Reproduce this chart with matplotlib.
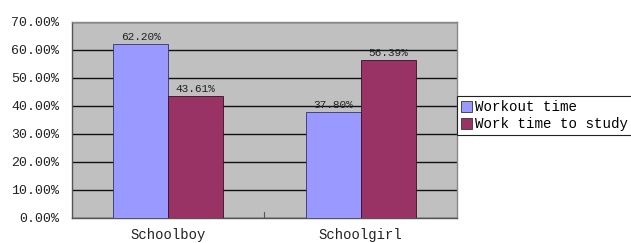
import matplotlib
matplotlib.use('Agg')
import matplotlib.pyplot as plt
import matplotlib.patches as mpatches
import numpy as np

CATEGORIES = ["Schoolboy", "Schoolgirl"]
SERIES = ["Workout time", "Work time to study"]
WORKOUT = [62.20, 37.80]
STUDY = [43.61, 56.39]
Y_TICKS = [0, 10, 20, 30, 40, 50, 60, 70]

BLUE = "#9999ff"
RED = "#993366"
BG = "#c0c0c0"
FONT = "Liberation Mono"

fig = plt.figure(figsize=(6.31, 2.43), dpi=100, facecolor="white")
ax = fig.add_axes([0.114, 0.103, 0.610, 0.807])
ax.set_facecolor(BG)

x = np.arange(len(CATEGORIES))
w = 0.286
b1 = ax.bar(x - w / 2, WORKOUT, width=w, color=BLUE, edgecolor="#333366", linewidth=0.6, zorder=3)
b2 = ax.bar(x + w / 2, STUDY, width=w, color=RED, edgecolor="#331122", linewidth=0.6, zorder=3)

for bars, vals in ((b1, WORKOUT), (b2, STUDY)):
    for bar, v in zip(bars, vals):
        ax.text(bar.get_x() + bar.get_width() / 2, v + 0.6, f"{v:.2f}%",
                ha="center", va="bottom", fontsize=8, family=FONT, color="#222222", zorder=4)

ax.set_xlim(-0.5, 1.5)
ax.set_ylim(0, 70)
ax.set_yticks(Y_TICKS)
ax.set_yticklabels([f"{t:.2f}%" for t in Y_TICKS], fontsize=9.5, family=FONT, color="#222222")
ax.set_xticks(x)
ax.set_xticklabels(CATEGORIES, fontsize=10, family=FONT, color="#222222")
ax.tick_params(axis="x", length=0, pad=7)
ax.tick_params(axis="y", length=0, pad=9)
ax.yaxis.grid(True, color="#111111", linewidth=1.0, zorder=1)
ax.set_axisbelow(True)

# category separator tick
ax.axvline(0.5, ymin=0, ymax=0.03, color="#555555", linewidth=0.8, zorder=2)

for s in ax.spines.values():
    s.set_color("#888888")
    s.set_linewidth(1.0)
ax.spines["bottom"].set_color("#555555")
ax.spines["left"].set_color("#555555")

handles = [mpatches.Patch(facecolor=BLUE, edgecolor="#333333", linewidth=0.6, label=SERIES[0]),
           mpatches.Patch(facecolor=RED, edgecolor="#333333", linewidth=0.6, label=SERIES[1])]
leg = fig.legend(handles=handles, loc="upper left", bbox_to_anchor=(0.724, 0.605),
                 prop={"family": FONT, "size": 10.2}, frameon=True, fancybox=False,
                 edgecolor="#222222", framealpha=1, handlelength=0.8, handleheight=0.8,
                 handletextpad=0.2, borderpad=0.3, labelspacing=0.2, borderaxespad=0)
leg.get_frame().set_linewidth(0.8)

fig.savefig("out.png", dpi=100, facecolor="white")
